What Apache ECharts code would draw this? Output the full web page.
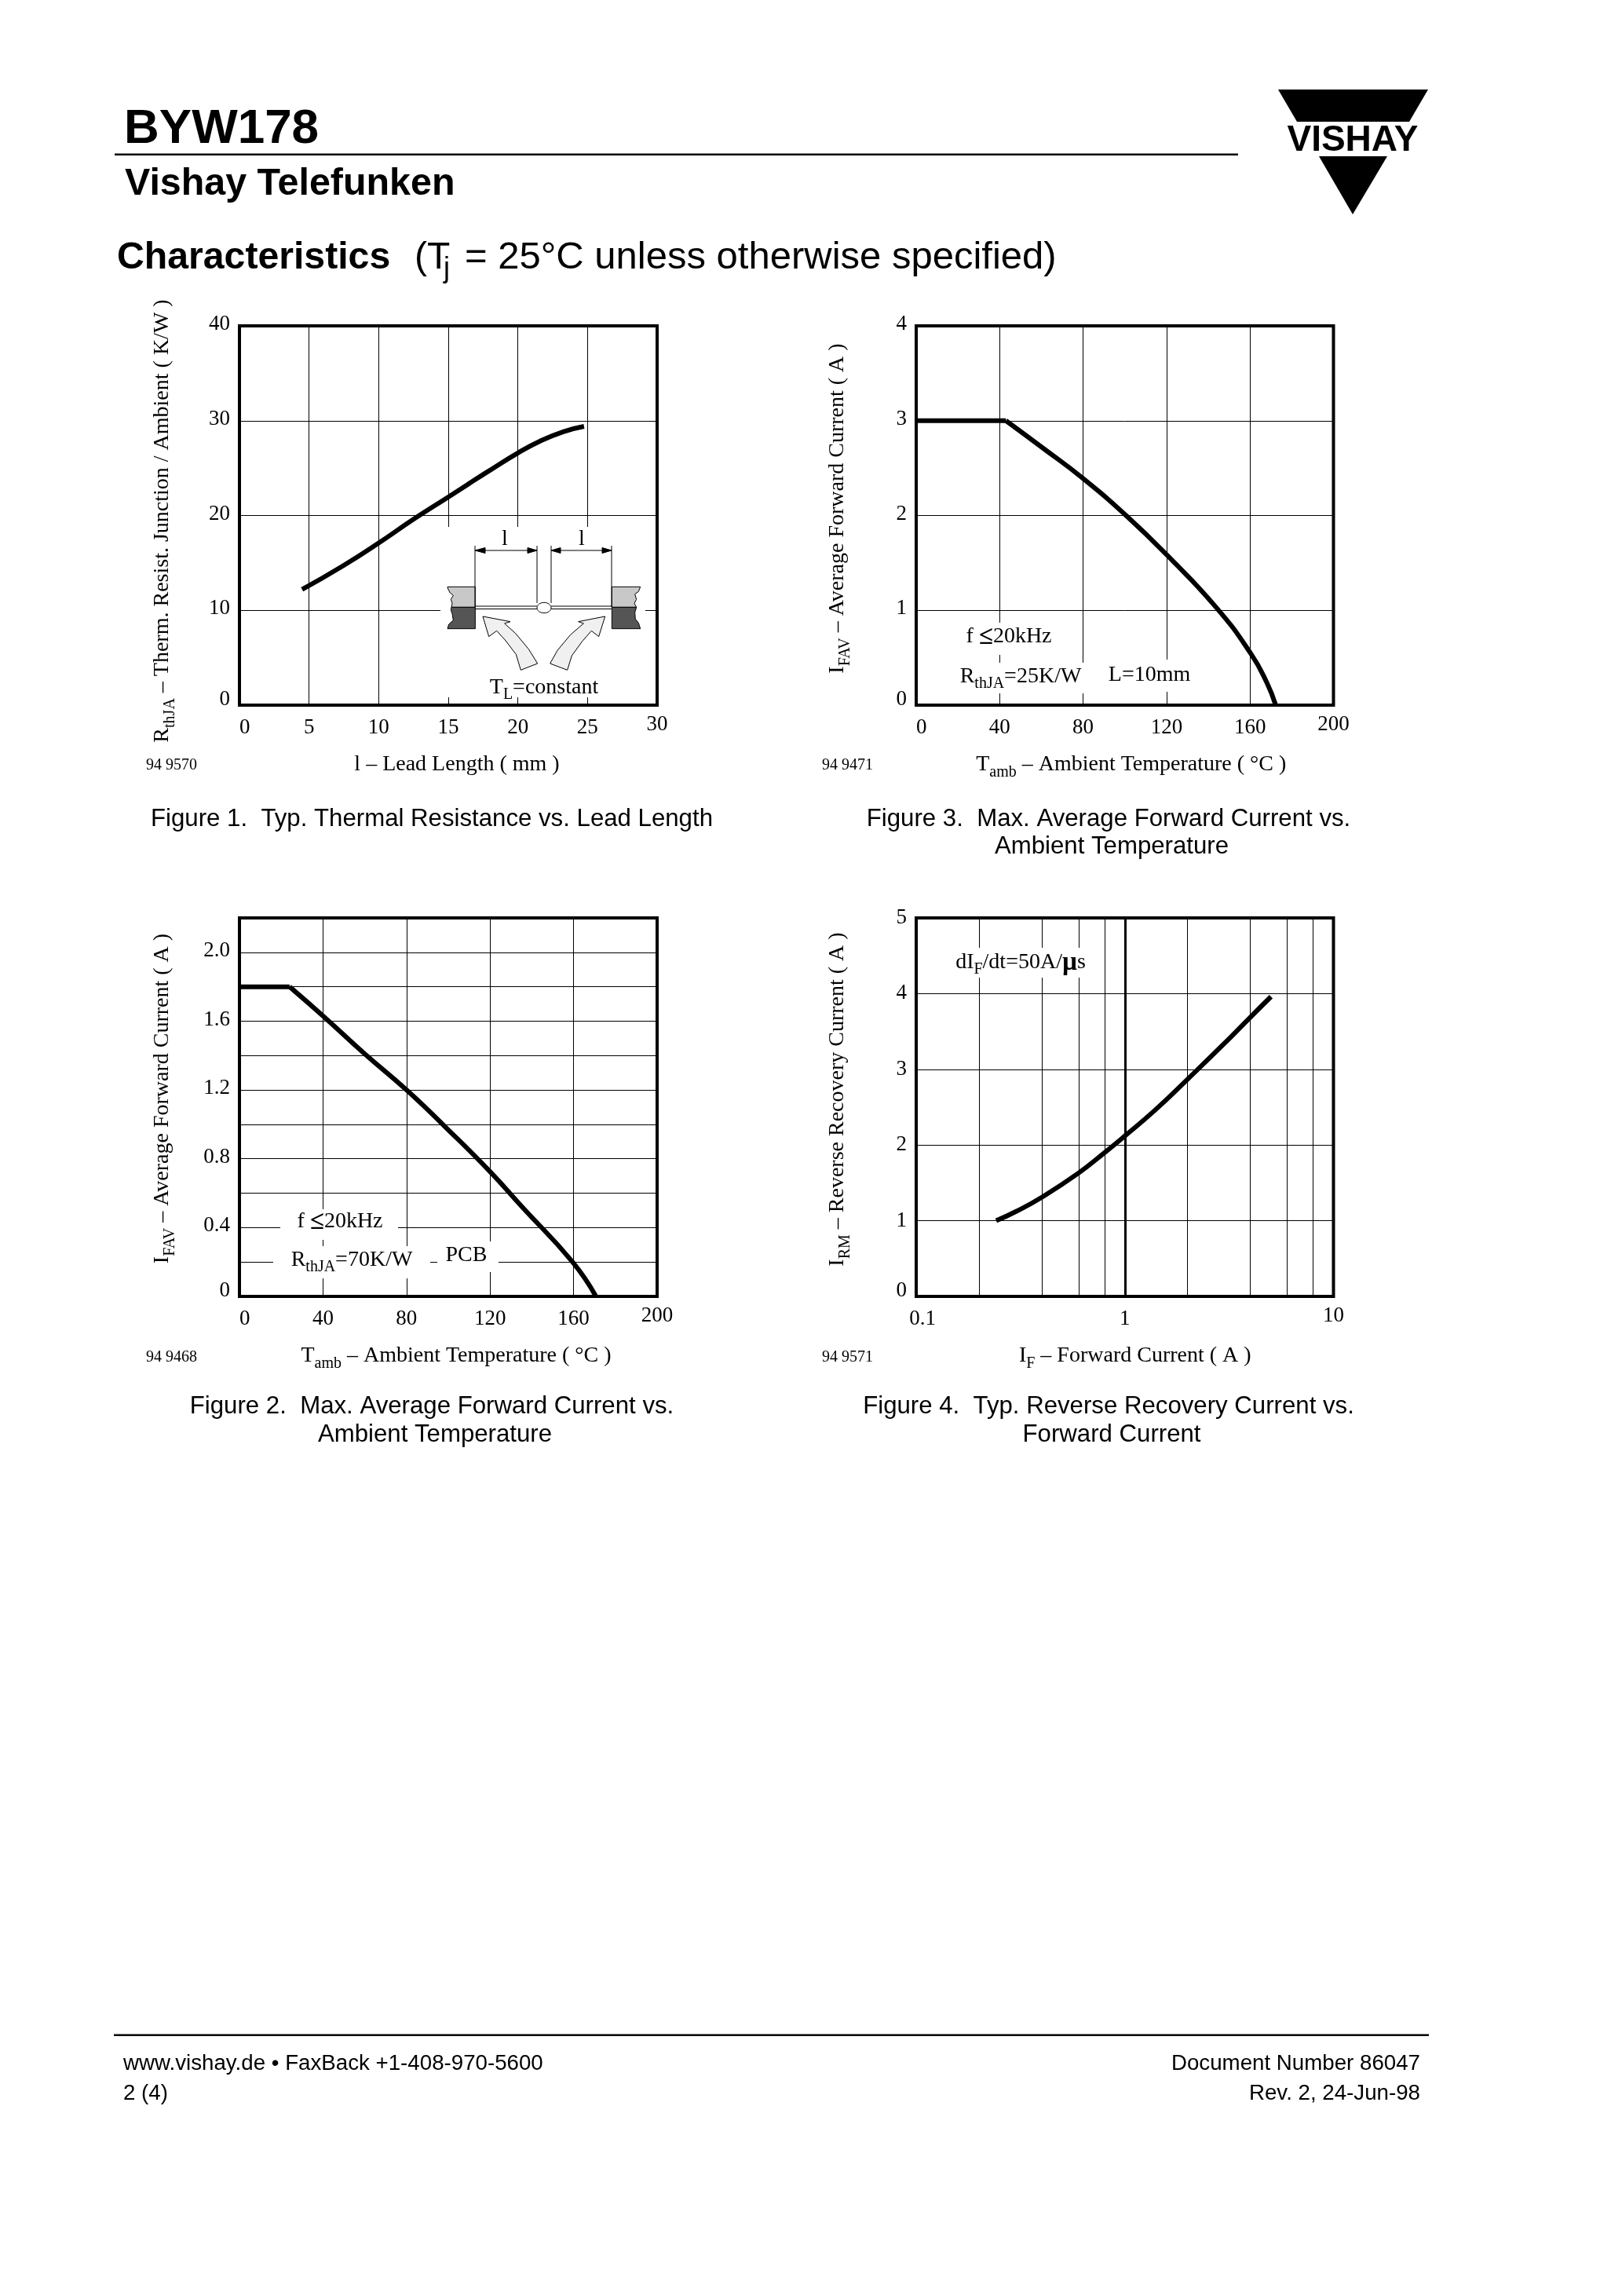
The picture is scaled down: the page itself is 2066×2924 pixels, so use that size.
<!DOCTYPE html>
<html><head><meta charset="utf-8">
<style>html,body{margin:0;padding:0;background:#fff}#c{width:2066px;height:2924px}</style>
<script src="https://cdn.jsdelivr.net/npm/echarts@6/dist/echarts.min.js"></script>
</head><body><div id="c"></div>
<script>
// ---- data ----
const fig1Lead = [4.5,7.4,10,12.5,15,16.4,17.7,20,21.6,23.3,24.75];
const fig1Rth  = [12.2,14.66,17.1,19.6,21.95,23.28,24.5,26.6,27.85,28.85,29.4];
const fig2FlatTemp = [0,24];
const fig2FlatIfav = [1.8,1.8];
const fig2Temp = [24,40.5,59.5,80,99,120,135,159.5,170.7];
const fig2Ifav = [1.8,1.625,1.415,1.2,0.98,0.725,0.525,0.2,0];
const fig3FlatTemp = [0,43];
const fig3FlatIfav = [3,3];
const fig3Temp = [43,60.8,80,100.6,120.3,143.8,160.2,168,172.3];
const fig3Ifav = [3,2.71,2.39,2.0,1.58,1.03,0.55,0.24,0];
const fig4If   = [0.2418,0.3,0.4,0.6,0.8,1,1.394,2,2.97,4,5.02];
const fig4Irm  = [1.0,1.12,1.31,1.63,1.9,2.12,2.46,2.87,3.33,3.69,3.96];
const fig4MinorGrid = [0.2,0.4,0.6,0.8,2,4,6,8];
const fig4MajorGrid = [1];
const fig2YLabels = ['0.4','0.8','1.2','1.6','2.0'];

const SERIF='"Liberation Serif"', SANS='"Liberation Sans"';
const TICK=27, NAME=28;
const nameRich={b:{fontFamily:SERIF,fontSize:NAME,color:'#000',lineHeight:40,verticalAlign:'middle'},
  s:{fontFamily:SERIF,fontSize:20,color:'#000',lineHeight:40,verticalAlign:'bottom'}};
const tk={fontFamily:SERIF,fontSize:TICK,color:'#000'};

function xAxis(i,o){return Object.assign({gridIndex:i,type:'value',position:'bottom',nameLocation:'middle',
  axisLine:{show:false},axisTick:{show:false},
  splitLine:{show:true,lineStyle:{color:'#000',width:1}},
  nameTextStyle:{rich:nameRich,padding:o.namePad},
  axisLabel:{show:true,hideOverlap:false,fontFamily:SERIF,fontSize:TICK,color:'#000',margin:29,verticalAlign:'middle',alignMinLabel:o.minAlign||'left',showMinLabel:true,showMaxLabel:true,
    formatter:o.fmt,rich:{m:{...tk,padding:[0,0,8,0]},n:{...tk,padding:[0,0,0,16]}}}},o.base);}
function yAxis(i,o){const pad=o.pad===undefined?4:o.pad;return Object.assign({gridIndex:i,type:'value',nameLocation:'middle',nameRotate:90,
  axisLine:{show:false},axisTick:{show:false},
  splitLine:{show:true,lineStyle:{color:'#000',width:1}},
  nameTextStyle:{rich:nameRich,padding:o.namePad},
  axisLabel:{show:true,hideOverlap:false,fontFamily:SERIF,fontSize:TICK,color:'#000',margin:12,padding:[0,0,pad,0],showMinLabel:true,showMaxLabel:true,
    formatter:o.fmt||(v=>v===0?'{z|0}':String(v)),rich:{z:{...tk,padding:[0,0,14-pad,0]}}}},o.base);}
const maxMark=m=>v=>v===m?`{m|${v}}`:String(v);
const pairs=(a,b)=>a.map((x,i)=>[x,b[i]]);
function curve(i,a,b,smooth=0.5){return {type:'line',xAxisIndex:i,yAxisIndex:i,data:pairs(a,b),showSymbol:false,symbol:'none',smooth,clip:false,
  lineStyle:{color:'#000',width:6,cap:'butt'},animation:false,z:5};}

// ---- graphic helpers (page furniture and annotations) ----
// y is the text baseline; zrender positions by the em-box middle
const T=(x,y,text,font,size,opt={})=>({type:'text',z:20,x,y:y-0.24*size,style:Object.assign({text,fontFamily:font,fontSize:size,fill:'#000',align:'left',verticalAlign:'middle'},opt)});
const box=(x,y,w,h)=>({type:'rect',z:10,shape:{x,y,width:w,height:h},style:{fill:'#fff'}});
const L=(x1,y1,x2,y2,w=1)=>({type:'line',z:12,shape:{x1,y1,x2,y2},style:{stroke:'#000',lineWidth:w}});
const P=(pts,fill,stroke='#000',w=1)=>({type:'polygon',z:12,shape:{points:pts},style:{fill,stroke,lineWidth:w}});
const Z=p=>p.map(([X,Y])=>[540+X/3,640+Y/3]);   // inset drawing units
const rt=(text,x,y)=>({type:'text',z:20,x,y,style:{text,rich:annRich,align:'center',verticalAlign:'middle',fill:'#000'}});
const annRich={b:{fontFamily:SERIF,fontSize:28,fill:'#000',lineHeight:38,verticalAlign:'middle'},
  s:{fontFamily:SERIF,fontSize:20,fill:'#000',lineHeight:38,verticalAlign:'bottom'},
  k:{fontFamily:SERIF,fontSize:33,fontWeight:'bold',fill:'#000',lineHeight:38,verticalAlign:'middle'}};

const graphic=[
  // header
  T(158,180,'BYW178',SANS,62,{fontWeight:'bold'}),
  {type:'rect',z:12,shape:{x:146,y:195.5,width:1431,height:2.5},style:{fill:'#000'}},
  T(159,246,'Vishay Telefunken',SANS,48.4,{fontWeight:'bold'}),
  T(149,340,'Characteristics',SANS,48.2,{fontWeight:'bold'}),
  T(528,340,'(T',SANS,48),
  T(565,352,'j',SANS,36),
  T(592,340,'= 25°C unless otherwise specified)',SANS,49),
  // logo
  P([[1628,114],[1819,114],[1795,155],[1652,155]],'#000','#000',0),
  T(1723,190,'VISHAY',SANS,46,{fontWeight:'bold',align:'center'}),
  P([[1680,199],[1767,199],[1723,273]],'#000','#000',0),
  // code numbers
  T(186,980,'94 9570',SERIF,20), T(1047,980,'94 9471',SERIF,20),
  T(186,1734,'94 9468',SERIF,20), T(1047,1734,'94 9571',SERIF,20),
  // captions
  T(550,1051,'Figure 1.  Typ. Thermal Resistance vs. Lead Length',SANS,31.2,{align:'center'}),
  T(1412,1051,'Figure 3.  Max. Average Forward Current vs.',SANS,31.2,{align:'center'}),
  T(1416,1086,'Ambient Temperature',SANS,31.2,{align:'center'}),
  T(550,1799,'Figure 2.  Max. Average Forward Current vs.',SANS,31.2,{align:'center'}),
  T(554,1835,'Ambient Temperature',SANS,31.2,{align:'center'}),
  T(1412,1799,'Figure 4.  Typ. Reverse Recovery Current vs.',SANS,31.2,{align:'center'}),
  T(1416,1835,'Forward Current',SANS,31.2,{align:'center'}),
  // footer
  {type:'rect',z:12,shape:{x:145,y:2590.5,width:1675,height:2.5},style:{fill:'#000'}},
  T(157,2635,'www.vishay.de • FaxBack +1-408-970-5600',SANS,27.7),
  T(157,2673,'2 (4)',SANS,27.7),
  T(1809,2635,'Document Number 86047',SANS,27.7,{align:'right'}),
  T(1809,2673,'Rev. 2, 24-Jun-98',SANS,27.7,{align:'right'}),

  // Fig 3 notes
  box(1223,793,124,41), box(1214,844,170,39), box(1406,840,115,41),
  rt('{b|f }{k|≤}{b|20kHz}',1285,811),
  rt('{b|R}{s|thJA}{b|=25K/W}',1300,862),
  rt('{b|L=10mm}',1464,860),
  // Fig 2 notes
  box(357,1540,150,39), box(348,1587,200,41), box(557,1581,78,39),
  rt('{b|f }{k|≤}{b|20kHz}',433,1556),
  rt('{b|R}{s|thJA}{b|=70K/W}',448,1605),
  rt('{b|PCB}',594,1599),
  // Fig 4 note
  box(1214,1207,172,38),
  rt('{b|dI}{s|F}{b|/dt=50A/}{k|µ}{b|s}',1300,1226),

  // Fig 1 inset
  box(561,671,261,217),
  P(Z([[90,322],[196,322],[196,400],[105,400],[108,385],[103,370],[112,355],[100,345],[92,330]]),'#c8c8c8'),
  P(Z([[105,400],[196,400],[196,482],[90,482],[95,465],[112,450],[108,425],[103,410]]),'#555'),
  P(Z([[718,322],[827,322],[820,340],[806,350],[812,370],[804,385],[812,400],[718,400]]),'#c8c8c8'),
  P(Z([[718,400],[812,400],[806,420],[808,445],[820,460],[827,482],[718,482]]),'#555'),
  L(605,695,605,773), L(684,695,684,768), L(702,695,702,768), L(779,695,779,773),
  L(605,701,684,701), L(702,701,779,701),
  P([[605,701],[618,697.5],[618,704.5]],'#000'), P([[684,701],[672,697.5],[672,704.5]],'#000'),
  P([[702,701],[714,697.5],[714,704.5]],'#000'), P([[779,701],[767,697.5],[767,704.5]],'#000'),
  L(605,772,684,772), L(605,775.5,684,775.5), L(702,772,779,772), L(702,775.5,779,775.5),
  {type:'ellipse',z:13,shape:{cx:693,cy:774,rx:9,ry:6.7},style:{fill:'#fff',stroke:'#000',lineWidth:1}},
  P(Z([[225,435],[330,455],[308,462],[350,500],[400,560],[434,615],[370,640],[352,580],[310,525],[278,490],[248,512]]),'#f0f0f0'),
  P(Z([[692,435],[590,455],[610,462],[560,505],[510,565],[482,615],[548,640],[565,585],[605,530],[640,490],[668,512]]),'#f0f0f0'),
  T(643,693,'l',SERIF,28,{align:'center'}), T(741,693,'l',SERIF,28,{align:'center'}),
  rt('{b|T}{s|L}{b|=constant}',693,876),
];

const frame={show:true,borderColor:'#000',borderWidth:4,backgroundColor:'#fff'};
const option={
  animation:false,backgroundColor:'#fff',
  grid:[
    {left:305,top:415,width:532,height:483,...frame},
    {left:305,top:1169,width:532,height:482,...frame},
    {left:1167,top:415,width:531.5,height:483,...frame},
    {left:1167,top:1169,width:531.5,height:482,...frame}
  ],
  xAxis:[
    xAxis(0,{namePad:[0,0,0,22],base:{min:0,max:30,interval:5,name:'{b|l – Lead Length ( mm )}',nameGap:56},fmt:maxMark(30)}),
    xAxis(1,{namePad:[0,0,0,20],base:{min:0,max:200,interval:40,name:'{b|T}{s|amb}{b| – Ambient Temperature ( °C )}',nameGap:56},fmt:maxMark(200)}),
    xAxis(2,{namePad:[0,0,0,16],base:{min:0,max:200,interval:40,name:'{b|T}{s|amb}{b| – Ambient Temperature ( °C )}',nameGap:56},fmt:maxMark(200)}),
    xAxis(3,{namePad:[0,0,0,26],minAlign:'center',base:{type:'log',logBase:10,min:0.1,max:10,name:'{b|I}{s|F}{b| – Forward Current ( A )}',nameGap:56,splitLine:{show:false}},fmt:v=>Math.abs(v-0.1)<1e-6?'{n|0.1}':Math.abs(v-10)<1e-6?'{m|10}':'1'})
  ],
  yAxis:[
    yAxis(0,{namePad:[0,14,0,0],base:{min:0,max:40,interval:10,name:'{b|R}{s|thJA}{b| – Therm. Resist. Junction / Ambient ( K/W )}',nameGap:78}}),
    yAxis(1,{namePad:[0,0,0,22],base:{min:0,max:2.2,interval:0.2,name:'{b|I}{s|FAV}{b| – Average Forward Current ( A )}',nameGap:78},
      fmt:v=>{const t=v.toFixed(1);return v<1e-6?'{z|0}':(fig2YLabels.includes(t)?t:'');}}),
    yAxis(2,{namePad:[0,0,0,18],base:{min:0,max:4,interval:1,name:'{b|I}{s|FAV}{b| – Average Forward Current ( A )}',nameGap:80}}),
    yAxis(3,{pad:0,namePad:[0,0,0,20],base:{min:0,max:5,interval:1,name:'{b|I}{s|RM}{b| – Reverse Recovery Current ( A )}',nameGap:80}})
  ],
  graphic:{elements:graphic},
  series:[
    curve(0,fig1Lead,fig1Rth),
    curve(1,fig2FlatTemp,fig2FlatIfav,false),
    curve(1,fig2Temp,fig2Ifav),
    curve(2,fig3FlatTemp,fig3FlatIfav,false),
    curve(2,fig3Temp,fig3Ifav),
    Object.assign(curve(3,fig4If,fig4Irm),{markLine:{silent:true,symbol:'none',animation:false,label:{show:false},
      data:[...fig4MinorGrid.map(v=>({xAxis:v,lineStyle:{color:'#000',width:1,type:'solid'}})),
            ...fig4MajorGrid.map(v=>({xAxis:v,lineStyle:{color:'#000',width:3,type:'solid'}}))]}})
  ]
};
echarts.init(document.getElementById('c'),null,{renderer:'canvas'}).setOption(option);
</script></body></html>
